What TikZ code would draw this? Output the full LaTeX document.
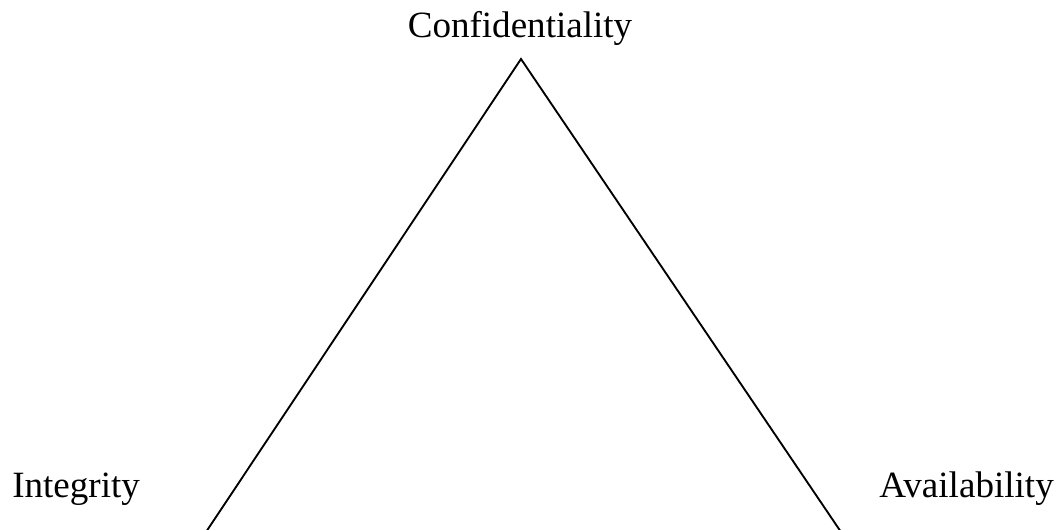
\documentclass[tikz,border=0pt]{standalone}
\usepackage{fontspec}
\setmainfont{Liberation Serif}
\usetikzlibrary{positioning, calc}

\begin{document}
\begin{tikzpicture}[x=0.75pt, y=-0.75pt,
    corner/.style={font=\fontsize{27.8}{30}\selectfont, inner sep=0pt},
    side/.style={line width=1.4pt}]

    % Page frame
    \useasboundingbox (0,0) rectangle (1061,530);

    % Corners of the triangle
    \coordinate (top) at (521,59);
    \coordinate (leftbase) at (206,532);
    \coordinate (rightbase) at (841,532);

    % Labels
    \node[corner, anchor=base] (conf) at (520,38) {Confidentiality};
    \node[corner, anchor=base west] (integ) at (12,498) {Integrity};
    \node[corner, anchor=base east] (avail) at (1054,498) {Availability};

    % Sides
    \draw[side] (leftbase) -- (top) -- (rightbase);

\end{tikzpicture}
\end{document}
